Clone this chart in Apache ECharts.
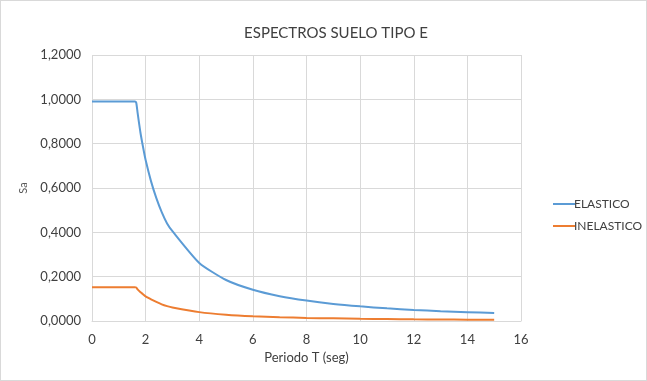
<!DOCTYPE html>
<html>
<head>
    <meta charset="utf-8">
    <title>Espectros suelo tipo E</title>
    <script src="https://cdn.jsdelivr.net/npm/echarts@6/dist/echarts.min.js"></script>
    <style>
        html, body { margin: 0; padding: 0; background: #fff; }
        #main { width: 645px; height: 379px; border: 1px solid #d9d9d9; }
    </style>
</head>
<body>
<div id="main"></div>
<script>
    // periodo T (seg)
    var periodos = [0, 0.5, 1, 1.5, 1.6, 1.65, 1.7, 1.8, 1.9, 2.0, 2.2, 2.4, 2.6, 2.8, 3,
        4, 5, 6, 7, 8, 9, 10, 11, 12, 13, 14, 15];
    // Sa elastico
    var elastico = [0.99, 0.99, 0.99, 0.99, 0.99, 0.985, 0.94, 0.855, 0.787, 0.726, 0.631, 0.554, 0.491, 0.44, 0.405,
        0.262, 0.185, 0.141, 0.112, 0.092, 0.077, 0.066, 0.057, 0.050, 0.044, 0.040, 0.036];
    // Sa inelastico
    var inelastico = [0.152, 0.152, 0.152, 0.152, 0.152, 0.151, 0.143, 0.131, 0.121, 0.111, 0.098, 0.086, 0.075, 0.067, 0.061,
        0.040, 0.028, 0.021, 0.017, 0.014, 0.012, 0.010, 0.0087, 0.0076, 0.0068, 0.006, 0.0054];

    function pares(ys) {
        var out = [];
        for (var i = 0; i < periodos.length; i++) out.push([periodos[i], ys[i]]);
        return out;
    }

    var font = 'Lato, "Open Sans", sans-serif';
    var chart = echarts.init(document.getElementById('main'));
    chart.setOption({
        animation: false,
        textStyle: { fontFamily: font },
        title: {
            text: 'ESPECTROS SUELO TIPO E',
            left: 330, top: 20, textAlign: 'center',
            textStyle: { fontSize: 15, fontWeight: 'normal', color: '#404040', fontFamily: font }
        },
        legend: {
            orient: 'vertical',
            left: 547, top: 192,
            itemWidth: 22, itemHeight: 2, itemGap: 10,
            icon: 'rect',
            textStyle: { fontSize: 12, color: '#404040', padding: [0, 0, 0, -6] },
            data: ['ELASTICO', 'INELASTICO']
        },
        grid: { left: 91, right: 125, top: 54, bottom: 59, containLabel: false },
        xAxis: {
            type: 'value', min: 0, max: 16, interval: 2,
            name: 'Periodo T (seg)', nameLocation: 'middle', nameGap: 30,
            nameTextStyle: { fontSize: 13, color: '#404040' },
            axisLine: { lineStyle: { color: '#d9d9d9' } },
            axisTick: { show: false },
            axisLabel: { color: '#404040', fontSize: 13, margin: 12 },
            splitLine: { show: true, lineStyle: { color: '#d9d9d9' } }
        },
        yAxis: {
            type: 'value', min: 0, max: 1.2, interval: 0.2,
            name: 'Sa', nameLocation: 'middle', nameGap: 58, nameRotate: 90,
            nameTextStyle: { fontSize: 11, color: '#595959' },
            axisLine: { show: false },
            axisTick: { show: false },
            axisLabel: {
                color: '#404040', fontSize: 13, margin: 11,
                formatter: function (v) { return v.toFixed(4).replace('.', ','); }
            },
            splitLine: { lineStyle: { color: '#d9d9d9' } }
        },
        series: [
            {
                name: 'ELASTICO', type: 'line', data: pares(elastico),
                showSymbol: false, smooth: 0.2,
                lineStyle: { width: 2, color: '#5b9bd5' }, itemStyle: { color: '#5b9bd5' }
            },
            {
                name: 'INELASTICO', type: 'line', data: pares(inelastico),
                showSymbol: false, smooth: 0.2,
                lineStyle: { width: 2, color: '#ed7d31' }, itemStyle: { color: '#ed7d31' }
            }
        ]
    });
</script>
</body>
</html>
